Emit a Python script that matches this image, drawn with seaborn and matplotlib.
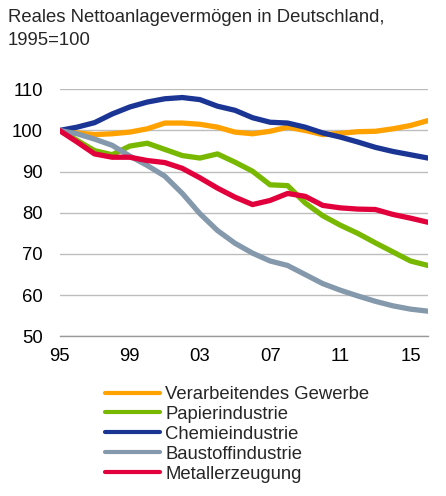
import pandas as pd
import numpy as np
import matplotlib.pyplot as plt
import seaborn as sns

years = list(range(1995, 2017))
verarbeitend = [100, 99.4, 99.0, 99.2, 99.6, 100.4, 101.8, 101.8, 101.5, 100.8, 99.6,
                99.2, 99.8, 100.8, 100.0, 99.0, 99.3, 99.7, 99.8, 100.4, 101.2, 102.4]
papier = [100, 97.6, 95.1, 94.1, 96.2, 96.9, 95.4, 93.9, 93.3, 94.3, 92.3,
          90.1, 86.8, 86.6, 82.4, 79.3, 77.0, 75.0, 72.7, 70.5, 68.3, 67.2]
chemie = [100, 100.8, 101.9, 104.0, 105.7, 106.9, 107.7, 108.0, 107.5, 105.9, 104.9,
          103.1, 102.0, 101.8, 100.8, 99.4, 98.4, 97.2, 95.9, 94.9, 94.1, 93.3]
baustoff = [100, 99.2, 97.9, 96.4, 93.8, 91.5, 88.9, 84.7, 79.8, 75.7, 72.6,
            70.2, 68.3, 67.2, 65.0, 62.8, 61.2, 59.8, 58.5, 57.4, 56.6, 56.1]
metall = [100, 97.2, 94.3, 93.5, 93.5, 92.7, 92.2, 90.8, 88.5, 86.0, 83.8,
          82.0, 83.0, 84.7, 84.0, 81.8, 81.2, 80.9, 80.8, 79.6, 78.7, 77.7]

names = ['Verarbeitendes Gewerbe', 'Papierindustrie', 'Chemieindustrie',
         'Baustoffindustrie', 'Metallerzeugung']
colors = ['#FFA200', '#78B800', '#1B3594', '#8599AC', '#E2003C']
xticks = [1995, 1999, 2003, 2007, 2011, 2015]
xticklabels = ['95', '99', '03', '07', '11', '15']
yticks = [50, 60, 70, 80, 90, 100, 110]

df = pd.DataFrame({'year': years})
for n, v in zip(names, [verarbeitend, papier, chemie, baustoff, metall]):
    df[n] = v
df = df.melt(id_vars='year', var_name='branche', value_name='wert')

sns.set_style('white')
plt.rcParams['font.family'] = ['Liberation Sans', 'DejaVu Sans']

fig = plt.figure(figsize=(4.46, 4.96), dpi=100)
ax = fig.add_axes([59.5/446, 1-336.3/496, (428-59.5)/446, (336.3-89.3)/496])

sns.lineplot(data=df, x='year', y='wert', hue='branche', hue_order=names,
             palette=colors, linewidth=3.8, ax=ax, legend=False)

ax.set_xlim(1995, 2016)
ax.set_ylim(50, 110)
ax.set_xticks(xticks)
ax.set_xticklabels(xticklabels)
ax.set_yticks(yticks)
ax.set_xlabel('')
ax.set_ylabel('')
ax.tick_params(axis='x', length=0, pad=8.5, labelsize=13.3, colors='black')
ax.tick_params(axis='y', length=0, pad=12, labelsize=13.3, colors='black')
for s in ['top', 'right', 'left']:
    ax.spines[s].set_visible(False)
ax.spines['bottom'].set_color('#999999')
ax.spines['bottom'].set_linewidth(1)
ax.yaxis.grid(True, color='#BDBDBD', linewidth=1)
ax.set_axisbelow(True)

fig.text(8/446, 1-9.5/496, 'Reales Nettoanlagevermögen in Deutschland,\n1995=100',
         fontsize=13.3, va='top', ha='left', linespacing=1.45)

handles = [plt.Line2D([], [], color=c, lw=3.0, solid_capstyle='round') for c in colors]
fig.legend(handles, names, loc='upper left', bbox_to_anchor=(105/446, 1-386/496),
           frameon=False, fontsize=13.3, handlelength=3.0, handletextpad=0.25,
           labelspacing=0.16, borderpad=0, borderaxespad=0)

fig.savefig('out.png', dpi=100)
